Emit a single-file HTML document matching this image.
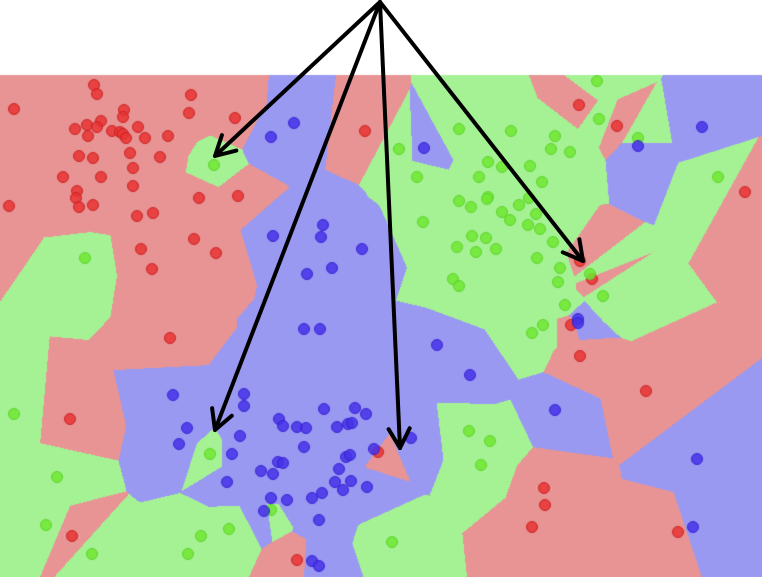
<!DOCTYPE html>
<html><head><meta charset="utf-8"><style>
html,body{margin:0;padding:0;background:#fff;width:762px;height:577px;overflow:hidden}
#wrap{position:relative;width:762px;height:577px}
canvas,svg{position:absolute;left:0;top:0}
</style></head><body>
<div id="wrap">
<canvas id="c" width="762" height="577"></canvas>
<svg id="arrows" width="762" height="577"></svg>
</div>
<script>
const redX=[94,97,14,191,189,235,124,123,101,87,75,97,88,112,120,123,126,138,145,168,79,93,130,160,133,63,101,133,77,76,79,93,9,137,153,199,238,194,216,141,152,365,579,617,745,580,592,170,70,72,297,378,571,580,646,544,545,532,678];
const redY=[85,94,109,95,113,118,110,117,121,125,129,127,136,131,132,134,138,127,138,136,156,158,153,157,168,177,177,186,191,198,207,205,206,216,213,198,196,239,253,249,269,131,105,126,192,261,279,338,419,536,560,452,325,356,391,488,505,527,532];
const greenX=[214,85,597,599,638,459,511,555,551,570,399,417,488,502,530,479,542,718,459,471,488,487,519,529,502,510,536,528,540,423,553,472,486,457,476,496,537,560,558,453,459,590,603,565,14,57,46,92,210,201,229,188,271,532,543,469,490,481,392];
const greenY=[165,258,81,119,138,129,131,136,149,152,149,177,162,167,166,177,182,177,201,207,197,199,205,198,212,220,214,225,229,222,242,236,238,247,252,249,258,268,282,279,286,274,296,305,414,477,525,554,454,536,529,554,510,333,325,431,441,465,542];
const blueX=[294,271,323,321,273,362,332,307,424,638,702,578,304,320,173,244,244,187,179,240,232,227,324,355,366,279,283,297,306,337,348,352,304,346,350,374,278,283,261,273,339,335,351,343,367,271,287,312,322,264,319,312,319,578,437,470,555,411,697,693];
const blueY=[123,137,225,237,236,249,268,274,148,146,127,319,329,329,395,394,406,428,444,436,454,482,409,408,414,419,426,427,428,427,424,423,447,457,455,449,462,463,471,474,469,482,481,490,487,498,500,498,493,511,520,561,566,323,345,375,410,438,459,527];
const classes=[
 {xs:redX,ys:redY,region:[232,148,148],dot:'rgba(232,52,52,0.85)',edge:'rgba(200,30,30,0.9)'},
 {xs:greenX,ys:greenY,region:[165,242,148],dot:'rgba(110,232,50,0.85)',edge:'rgba(90,210,40,0.9)'},
 {xs:blueX,ys:blueY,region:[153,153,242],dot:'rgba(70,50,232,0.85)',edge:'rgba(50,30,210,0.9)'}
];
const plotTop=75;
const cv=document.getElementById('c');const ctx=cv.getContext('2d');
const W=762,H=577;
const pts=[];classes.forEach((c,ci)=>{for(let i=0;i<c.xs.length;i++)pts.push([c.xs[i],c.ys[i],ci]);});
const img=ctx.createImageData(W,H);
for(let y=0;y<H;y++)for(let x=0;x<W;x++){
 const o=(y*W+x)*4;
 if(y<plotTop){img.data[o]=255;img.data[o+1]=255;img.data[o+2]=255;img.data[o+3]=255;continue;}
 let best=1e12,bc=0;
 for(const p of pts){const dx=p[0]-x,dy=p[1]-y,d=dx*dx+dy*dy;if(d<best){best=d;bc=p[2];}}
 const col=classes[bc].region;
 img.data[o]=col[0];img.data[o+1]=col[1];img.data[o+2]=col[2];img.data[o+3]=255;
}
ctx.putImageData(img,0,0);
classes.forEach(c=>{for(let i=0;i<c.xs.length;i++){
 ctx.beginPath();ctx.arc(c.xs[i],c.ys[i],5.5,0,Math.PI*2);ctx.fillStyle=c.dot;ctx.fill();
 ctx.lineWidth=1;ctx.strokeStyle=c.edge;ctx.stroke();}});
const arrowOriginX=380,arrowOriginY=2;
const arrowTipX=[215,215,400,583];
const arrowTipY=[156,430,448,261];
const svg=document.getElementById('arrows');const NS='http://www.w3.org/2000/svg';
for(let i=0;i<arrowTipX.length;i++){
 const tx=arrowTipX[i],ty=arrowTipY[i];
 const g=document.createElementNS(NS,'g');
 
 
 const l=document.createElementNS(NS,'line');
 l.setAttribute('x1',arrowOriginX);l.setAttribute('y1',arrowOriginY);l.setAttribute('x2',tx);l.setAttribute('y2',ty);
 l.setAttribute('stroke','#000');l.setAttribute('stroke-width','4');l.setAttribute('stroke-linecap','round');
 g.appendChild(l);
 const a=Math.atan2(ty-arrowOriginY,tx-arrowOriginX),L=22,s=0.5;
 const h=document.createElementNS(NS,'polyline');
 const p1=[tx-L*Math.cos(a-s),ty-L*Math.sin(a-s)],p2=[tx-L*Math.cos(a+s),ty-L*Math.sin(a+s)];
 h.setAttribute('points',p1.join(',')+' '+tx+','+ty+' '+p2.join(','));
 h.setAttribute('fill','none');h.setAttribute('stroke','#000');h.setAttribute('stroke-width','4');
 h.setAttribute('stroke-linecap','round');h.setAttribute('stroke-linejoin','round');
 g.appendChild(h);svg.appendChild(g);
}
</script>
</body></html>
